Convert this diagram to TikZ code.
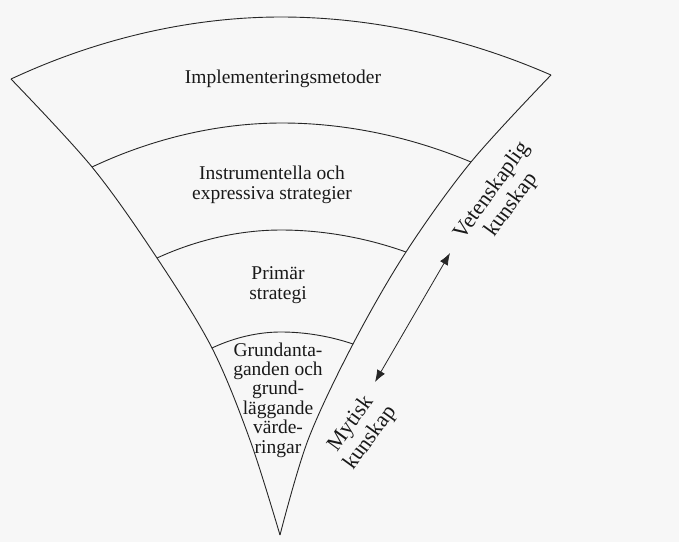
\documentclass[tikz,border=0pt]{standalone}
\usepackage{fontspec}
\setmainfont{Liberation Serif}
\usetikzlibrary{arrows.meta}
\begin{document}
\begin{tikzpicture}[x=1pt,y=-1pt,
  edge/.style={draw=black!85,line width=0.9pt},
  lbl/.style={inner sep=0pt,align=center,text=black!90,font=\fontsize{19.5}{19.4}\selectfont},
  rotlbl/.style={inner sep=0pt,align=center,text=black!90,font=\fontsize{22}{24}\selectfont,rotate=54}]
\fill[black!3] (0,0) rectangle (679,542);
\useasboundingbox (0,0) rectangle (679,542);
% left edge points
\coordinate (L1) at (11,79);
\coordinate (L2) at (92,167);
\coordinate (L3) at (157,258);
\coordinate (L4) at (212,348);
\coordinate (L5) at (250,440);
\coordinate (A)  at (280,535);
% right edge points
\coordinate (R1) at (551,75);
\coordinate (R2) at (471,162);
\coordinate (R3) at (406,252);
\coordinate (R4) at (353,344);
\coordinate (R5) at (308,440);
% arc tops
\coordinate (T1) at (281,17);
\coordinate (T2) at (282,123);
\coordinate (T3) at (281,230);
\coordinate (T4) at (281,332);
% edges
\draw[edge] plot[smooth,tension=0.55] coordinates {(L1) (L2) (L3) (L4) (L5) (A)};
\draw[edge] plot[smooth,tension=0.55] coordinates {(R1) (R2) (R3) (R4) (R5) (A)};
% arcs
\draw[edge] (L1) parabola bend (T1) (R1);
\draw[edge] (L2) parabola bend (T2) (R2);
\draw[edge] (L3) parabola bend (T3) (R3);
\draw[edge] (L4) parabola bend (T4) (R4);
% labels
\node[lbl] (impl) at (283,78.4) {Implementeringsmetoder};
\node[lbl] (instr) at (272,185) {Instrumentella och\\expressiva strategier};
\node[lbl] (prim) at (278,285) {Primär\\strategi};
\node[lbl] (grund) at (278,400) {Grundanta-\\ganden och\\grund-\\läggande\\värde-\\ringar};
% arrow
\coordinate (a1) at (375,382);
\coordinate (a2) at (450,253);
\draw[edge,line width=0.8pt,{Latex[length=12pt,width=9pt]}-{Latex[length=12pt,width=9pt]}] (a1) -- (a2);
\node[rotlbl] (vet) at (502,198) {Vetenskaplig\\kunskap};
\node[rotlbl] (myt) at (361,431) {Mytisk\\kunskap};
\end{tikzpicture}
\end{document}
